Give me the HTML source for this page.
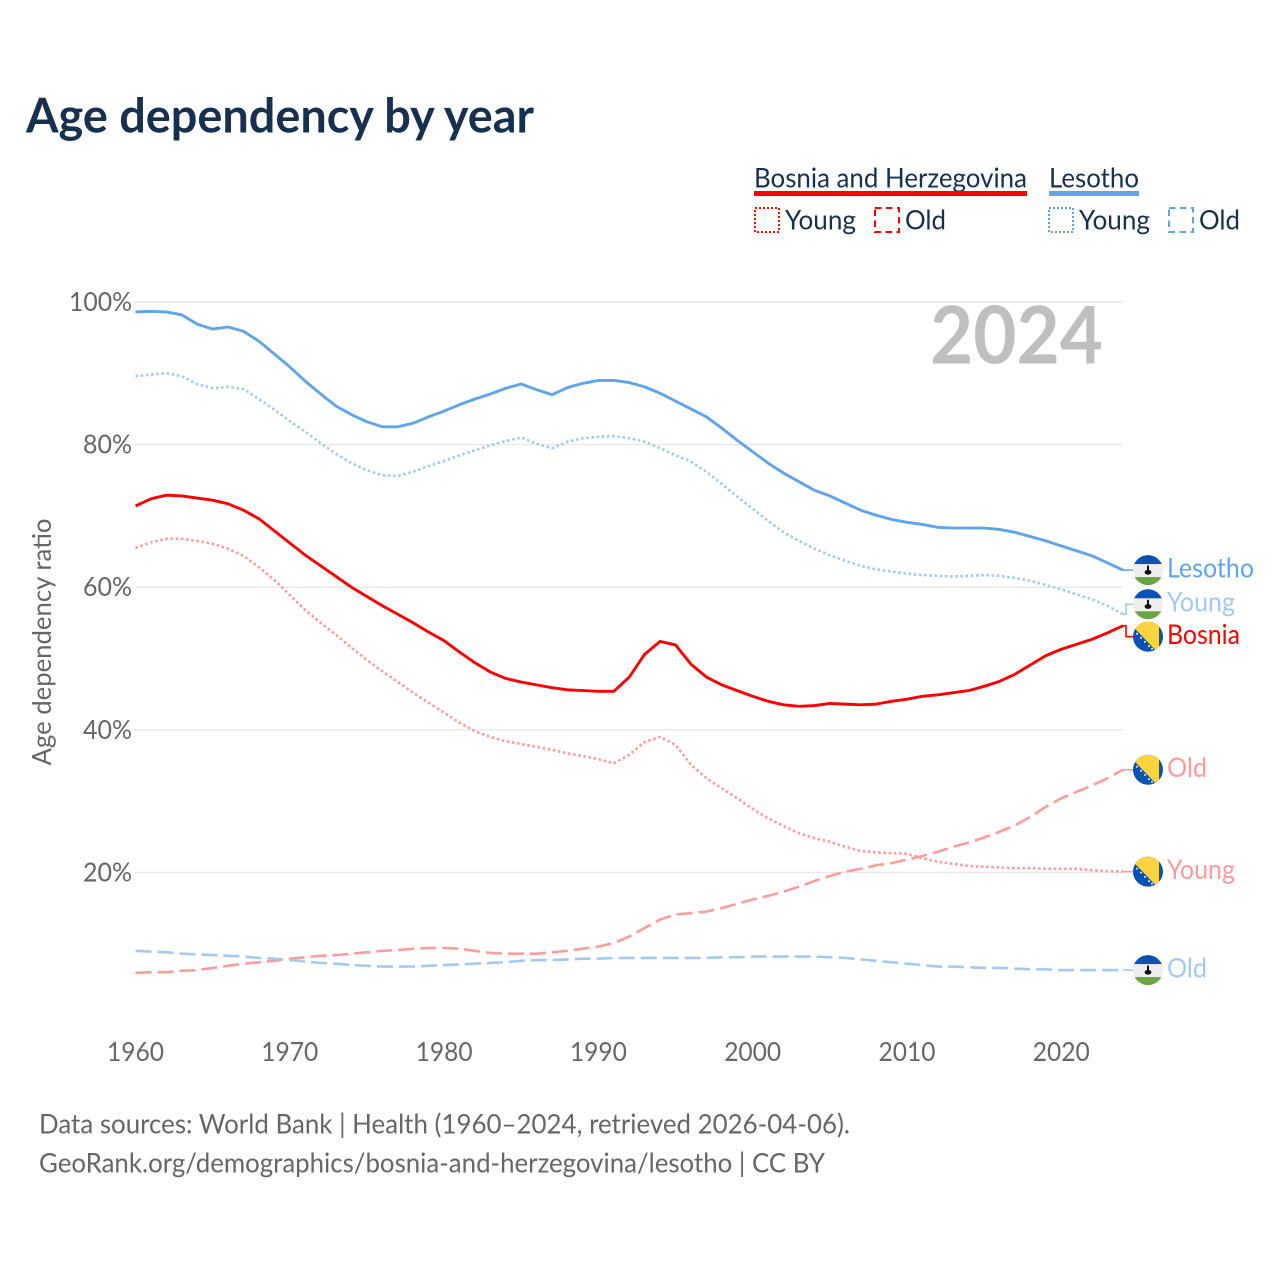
<!DOCTYPE html>
<html lang="en">
<head>
<meta charset="utf-8">
<title>Age dependency by year</title>
<style>
html,body{margin:0;padding:0;background:#fff;}
svg{display:block;}
text{font-family:"Lato","Carlito","Liberation Sans",sans-serif;}
</style>
</head>
<body>
<svg id="chart" width="1280" height="1280" viewBox="0 0 1280 1280" xmlns="http://www.w3.org/2000/svg">
  <defs>
    <clipPath id="flag-clip"><circle cx="0" cy="0" r="15"></circle></clipPath>
  </defs>
  <rect width="1280" height="1280" fill="#ffffff"></rect>
  <text x="26" y="132.5" font-size="47.5" font-weight="700" fill="#18304f" textLength="508" lengthAdjust="spacingAndGlyphs">Age dependency by year</text>

  <g font-size="27" fill="#18304f">
    <text x="754" y="187.5" textLength="273" lengthAdjust="spacingAndGlyphs">Bosnia and Herzegovina</text>
    <rect x="754" y="191" width="273" height="5" fill="#ff0000"></rect>
    <text x="1049" y="187.5" textLength="90" lengthAdjust="spacingAndGlyphs">Lesotho</text>
    <rect x="1049" y="191" width="90" height="5" fill="#60a5ec"></rect>

    <rect x="755" y="208" width="24" height="24" fill="none" stroke="#ff0000" stroke-width="2" stroke-dasharray="2 2"></rect>
    <text x="785" y="229.5" textLength="71" lengthAdjust="spacingAndGlyphs">Young</text>
    <rect x="875" y="208" width="24" height="24" fill="none" stroke="#ff0000" stroke-width="2" stroke-dasharray="6.5 4.5"></rect>
    <text x="905" y="229.5" textLength="41" lengthAdjust="spacingAndGlyphs">Old</text>

    <rect x="1049" y="208" width="24" height="24" fill="none" stroke="#60a5ec" stroke-width="2" stroke-dasharray="2 2"></rect>
    <text x="1079" y="229.5" textLength="71" lengthAdjust="spacingAndGlyphs">Young</text>
    <rect x="1169" y="208" width="24" height="24" fill="none" stroke="#60a5ec" stroke-width="2" stroke-dasharray="6.5 4.5"></rect>
    <text x="1199" y="229.5" textLength="41" lengthAdjust="spacingAndGlyphs">Old</text>
  </g>

  <g id="grid"></g>
  <g id="y-ticks"></g>
  <g id="x-ticks"></g>

  <text transform="translate(51,642) rotate(-90)" text-anchor="middle" font-size="26" fill="#666666" textLength="247" lengthAdjust="spacingAndGlyphs">Age dependency ratio</text>

  <text x="930" y="363.5" font-size="80" font-weight="700" fill="#bfbfbf" textLength="173" lengthAdjust="spacingAndGlyphs">2024</text>

  <g id="series"></g>
  <g id="end-labels"></g>

  <text x="39" y="1133.5" font-size="27" fill="#666666" textLength="811" lengthAdjust="spacingAndGlyphs">Data sources: World Bank | Health (1960–2024, retrieved 2026-04-06).</text>
  <text x="39" y="1172.5" font-size="27" fill="#666666" textLength="786" lengthAdjust="spacingAndGlyphs">GeoRank.org/demographics/bosnia-and-herzegovina/lesotho | CC BY</text>
</svg>

<script>
const years = [1960,1961,1962,1963,1964,1965,1966,1967,1968,1969,1970,1971,1972,1973,1974,1975,1976,1977,1978,1979,1980,1981,1982,1983,1984,1985,1986,1987,1988,1989,1990,1991,1992,1993,1994,1995,1996,1997,1998,1999,2000,2001,2002,2003,2004,2005,2006,2007,2008,2009,2010,2011,2012,2013,2014,2015,2016,2017,2018,2019,2020,2021,2022,2023,2024];
const xTickYears = [1960,1970,1980,1990,2000,2010,2020];
const yTickValues = [20,40,60,80,100];

const lesothoTotal = [98.6,98.7,98.6,98.2,96.9,96.2,96.5,95.9,94.5,92.7,90.9,88.9,87.1,85.4,84.2,83.2,82.5,82.5,83.0,83.9,84.7,85.6,86.4,87.1,87.9,88.5,87.7,87.0,88.0,88.6,89.0,89.0,88.7,88.1,87.2,86.1,85.0,83.9,82.3,80.6,79.0,77.4,76.0,74.8,73.6,72.8,71.8,70.8,70.1,69.5,69.1,68.8,68.4,68.3,68.3,68.3,68.1,67.7,67.1,66.5,65.8,65.1,64.4,63.4,62.4];
const lesothoYoung = [89.6,89.8,90.0,89.6,88.5,87.9,88.1,87.8,86.4,84.9,83.3,81.8,80.2,78.7,77.4,76.4,75.7,75.6,76.2,77.0,77.7,78.5,79.2,79.9,80.5,81.0,80.1,79.5,80.4,80.9,81.1,81.2,80.9,80.4,79.5,78.5,77.6,76.2,74.5,72.7,71.0,69.3,67.7,66.5,65.4,64.5,63.7,63.0,62.5,62.2,61.9,61.7,61.6,61.5,61.6,61.7,61.6,61.3,60.9,60.3,59.7,59.0,58.3,57.4,56.2];
const lesothoOld = [9.0,8.9,8.8,8.6,8.5,8.4,8.3,8.2,8.0,7.9,7.7,7.5,7.3,7.2,7.0,6.9,6.8,6.8,6.8,6.9,7.0,7.1,7.2,7.3,7.4,7.6,7.7,7.7,7.8,7.9,7.9,8.0,8.0,8.0,8.0,8.0,8.0,8.0,8.1,8.1,8.2,8.2,8.2,8.2,8.2,8.1,8.0,7.8,7.6,7.4,7.2,7.0,6.8,6.8,6.7,6.6,6.6,6.5,6.4,6.4,6.3,6.3,6.3,6.3,6.3];
const bosniaTotal = [71.4,72.4,72.9,72.8,72.5,72.2,71.7,70.8,69.6,67.9,66.2,64.5,63.0,61.5,60.0,58.7,57.4,56.2,55.0,53.7,52.5,50.9,49.4,48.1,47.2,46.7,46.3,45.9,45.6,45.5,45.4,45.4,47.4,50.6,52.4,51.9,49.2,47.4,46.3,45.5,44.7,44.0,43.5,43.3,43.4,43.7,43.6,43.5,43.6,44.0,44.3,44.7,44.9,45.2,45.5,46.1,46.8,47.8,49.1,50.4,51.3,52.0,52.7,53.6,54.6];
const bosniaYoung = [65.5,66.3,66.8,66.8,66.5,66.1,65.4,64.4,62.8,61.0,58.9,56.8,55.0,53.3,51.5,49.8,48.2,46.7,45.2,43.8,42.4,41.0,39.8,39.0,38.4,38.0,37.6,37.2,36.7,36.3,35.9,35.3,36.5,38.3,39.0,37.9,35.1,33.2,31.8,30.4,28.9,27.6,26.5,25.5,24.8,24.3,23.6,23.0,22.8,22.7,22.6,22.0,21.5,21.2,20.9,20.8,20.7,20.6,20.6,20.5,20.5,20.5,20.3,20.2,20.1];
const bosniaOld = [5.9,6.0,6.0,6.2,6.3,6.6,6.9,7.2,7.4,7.6,7.9,8.1,8.3,8.4,8.6,8.8,9.0,9.1,9.3,9.4,9.4,9.3,9.0,8.7,8.6,8.6,8.6,8.8,9.0,9.3,9.6,10.1,11.0,12.2,13.4,14.1,14.3,14.5,15.0,15.6,16.2,16.7,17.3,18.0,18.8,19.5,20.1,20.5,21.0,21.3,21.8,22.3,22.9,23.6,24.2,24.9,25.7,26.6,27.8,29.2,30.4,31.3,32.2,33.2,34.4];

const SVGNS = 'http://www.w3.org/2000/svg';
const xScale = function (year) { return 135.5 + (year - 1960) * (987.5 / 64); };
const yScale = function (value) { return 1015 - value * 7.13; };

function make(tag, attrs, parent) {
  const el = document.createElementNS(SVGNS, tag);
  Object.keys(attrs).forEach(function (k) { el.setAttribute(k, attrs[k]); });
  parent.appendChild(el);
  return el;
}

const gridGroup = document.getElementById('grid');
const yTickGroup = document.getElementById('y-ticks');
yTickValues.forEach(function (v) {
  const line = make('line', {x1: 135, x2: 1123, y1: yScale(v), y2: yScale(v), stroke: '#e8e8e8', 'stroke-width': 1.4}, gridGroup);
  
  
  const label = v + '%';
  const t = make('text', {x: 132, y: yScale(v) + 9, 'text-anchor': 'end', 'font-size': 26, fill: '#666666', textLength: 14 * String(v).length + 21, lengthAdjust: 'spacingAndGlyphs'}, yTickGroup);
  t.textContent = label;
  
  
});

const xTickGroup = document.getElementById('x-ticks');
xTickYears.forEach(function (year) {
  const t = make('text', {x: xScale(year), y: 1061, 'text-anchor': 'middle', 'font-size': 26, fill: '#666666', textLength: 57, lengthAdjust: 'spacingAndGlyphs'}, xTickGroup);
  t.textContent = String(year);
  
  
});

const seriesList = [
  {id: 'bosnia-young', values: bosniaYoung, color: '#ff9c9c', dash: '2.6 2.6', width: 2.6, label: 'Young', labelWidth: 68, flag: 'bosnia', nudge: 0},
  {id: 'bosnia-old', values: bosniaOld, color: '#ff9c9c', dash: '16 6', width: 2.6, label: 'Old', labelWidth: 40, flag: 'bosnia', nudge: 0},
  {id: 'lesotho-young', values: lesothoYoung, color: '#a3c9f3', dash: '2.6 2.6', width: 2.6, label: 'Young', labelWidth: 68, flag: 'lesotho', nudge: -10},
  {id: 'lesotho-old', values: lesothoOld, color: '#a3c9f3', dash: '16 6', width: 2.6, label: 'Old', labelWidth: 40, flag: 'lesotho', nudge: 0},
  {id: 'lesotho-total', values: lesothoTotal, color: '#60a5ec', dash: '', width: 2.9, label: 'Lesotho', labelWidth: 87, flag: 'lesotho', nudge: 0},
  {id: 'bosnia-total', values: bosniaTotal, color: '#ff0000', dash: '', width: 2.9, label: 'Bosnia', labelWidth: 73, flag: 'bosnia', nudge: 11}
];

function drawFlag(kind, cx, cy, parent) {
  const outer = make('g', {transform: 'translate(' + cx + ',' + cy + ')'}, parent);
  const g = make('g', {'clip-path': 'url(#flag-clip)'}, outer);
  if (kind === 'lesotho') {
    make('rect', {x: -16, y: -16, width: 32, height: 32, fill: '#eeeeee'}, g);
    make('rect', {x: -16, y: -16, width: 32, height: 10, fill: '#0a52b4'}, g);
    make('rect', {x: -16, y: 7, width: 32, height: 9, fill: '#6da544'}, g);
    make('rect', {x: -1, y: -4.5, width: 2, height: 6, fill: '#111111'}, g);
    make('ellipse', {cx: 0, cy: 2.2, rx: 3.4, ry: 2.4, fill: '#111111'}, g);
  } else {
    make('rect', {x: -16, y: -16, width: 32, height: 32, fill: '#0a52b4'}, g);
    make('polygon', {points: '-16,-11 9,15 11,15 11,-16 -16,-16', fill: '#ffd23f'}, g);
    [[-11, -3], [-7, 1], [-3, 5.2], [1, 9.4], [4, 12]].forEach(function (p) {
      make('circle', {cx: p[0], cy: p[1], r: 1, fill: '#eef2fa'}, g);
    });
  }
  return outer;
}

const seriesGroup = document.getElementById('series');
const labelGroup = document.getElementById('end-labels');
seriesList.forEach(function (s) {
  const d = s.values.map(function (v, i) {
    return (i ? 'L' : 'M') + xScale(years[i]).toFixed(2) + ' ' + yScale(v).toFixed(2);
  }).join(' ');
  const path = make('path', {d: d, fill: 'none', stroke: s.color, 'stroke-width': s.width, 'stroke-linejoin': 'round'}, seriesGroup);
  if (s.dash) path.setAttribute('stroke-dasharray', s.dash);
  
  

  const lastValue = s.values[s.values.length - 1];
  const endX = xScale(years[years.length - 1]);
  const endY = yScale(lastValue);
  const labelY = endY + s.nudge;
  const midX = endX + (s.nudge ? 3 : 0);
  const connD = 'M' + endX + ' ' + endY + ' L' + midX + ' ' + endY + ' L' + midX + ' ' + labelY + ' L1133 ' + labelY;
  const conn = make('path', {d: connD, fill: 'none', stroke: s.color, 'stroke-width': 1.6}, labelGroup);
  
  

  const flag = drawFlag(s.flag, 1148, labelY, labelGroup);
  
  

  const t = make('text', {x: 1167, y: labelY + 7.3, 'font-size': 27, fill: s.color, textLength: s.labelWidth, lengthAdjust: 'spacingAndGlyphs'}, labelGroup);
  t.textContent = s.label;
  
  
});
</script>
</body>
</html>
